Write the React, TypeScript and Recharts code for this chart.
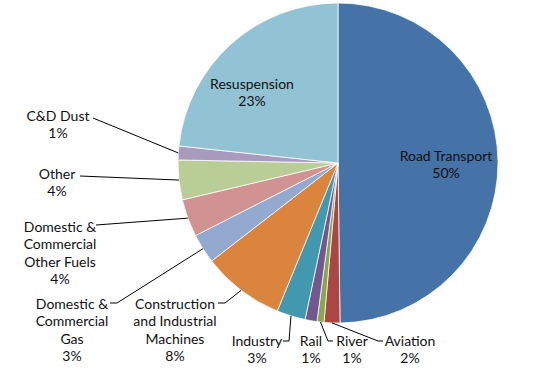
import React from "react";
import { PieChart, Pie, Cell } from "recharts";

const categories = [
  "Road Transport",
  "Aviation",
  "River",
  "Rail",
  "Industry",
  "Construction\nand Industrial\nMachines",
  "Domestic &\nCommercial\nGas",
  "Domestic &\nCommercial\nOther Fuels",
  "Other",
  "C&D Dust",
  "Resuspension",
];

// share of emissions, percent
const shares = [49.8, 1.6, 0.7, 1.2, 2.9, 8.3, 3.0, 3.8, 4.0, 1.4, 23.3];

const colors = [
  "#4572A7",
  "#AA4643",
  "#89A54E",
  "#71588F",
  "#4198AF",
  "#DB843D",
  "#93A9CF",
  "#D19392",
  "#B9CD96",
  "#A99BBD",
  "#92C3D4",
];

const chartData = categories.map((name, i) => ({ name, value: shares[i] }));

// label placement relative to the pie centre: first line centre + leader elbows
const labelLayout: { x: number; y: number; leader?: [number, number][] }[] = [
  { x: 108, y: -8 },
  { x: 72, y: 177, leader: [[45, 178], [40, 178]] },
  { x: 14, y: 177, leader: [[-5, 178], [-10, 178]] },
  { x: -27, y: 177 },
  { x: -81, y: 177, leader: [[-55, 178], [-49, 178]] },
  { x: -163, y: 140, leader: [[-120, 140], [-113, 140]] },
  { x: -266, y: 140, leader: [[-228, 140], [-221, 140]] },
  { x: -278, y: 63, leader: [[-242, 62]] },
  { x: -281, y: 10, leader: [[-258, 13]] },
  { x: -280, y: -48, leader: [[-245, -45]] },
  { x: -86, y: -80 },
];

const RADIAN = Math.PI / 180;
const LINE_H = 17.6;

const renderLabel = (props: any) => {
  const { cx, cy, midAngle, outerRadius, index, value } = props;
  const layout = labelLayout[index];
  const lines = [...categories[index].split("\n"), `${Math.round(value)}%`];
  const ex = cx + outerRadius * Math.cos(-midAngle * RADIAN);
  const ey = cy + outerRadius * Math.sin(-midAngle * RADIAN);
  let path = "";
  if (layout.leader) {
    const pts = layout.leader.map(([px, py]) => `${cx + px},${cy + py}`);
    path = `M${pts.join(" L")} L${ex},${ey}`;
  }
  return (
    <g key={`lbl-${index}`}>
      {path && <path d={path} stroke="#000" strokeWidth={1} fill="none" />}
      {lines.map((t, j) => (
        <text
          key={j}
          x={cx + layout.x}
          y={cy + layout.y + j * LINE_H}
          textAnchor="middle"
          dominantBaseline="central"
          fill="#111"
          fontSize={14}
          fontFamily="Lato, 'Open Sans', sans-serif"
        >
          {t}
        </text>
      ))}
    </g>
  );
};

export default function App() {
  return (
    <div style={{ position: "absolute", left: 0, top: 0, width: 541, height: 375, background: "#fff" }}>
      <PieChart width={541} height={375} margin={{ top: 0, right: 0, bottom: 0, left: 0 }}>
        <Pie
          data={chartData}
          dataKey="value"
          nameKey="name"
          cx={338}
          cy={163}
          outerRadius={160}
          startAngle={90}
          endAngle={-270}
          stroke="#fff"
          strokeWidth={0.75}
          label={renderLabel}
          labelLine={false}
          isAnimationActive={false}
        >
          {chartData.map((d, i) => (
            <Cell key={d.name} fill={colors[i]} />
          ))}
        </Pie>
      </PieChart>
    </div>
  );
}
